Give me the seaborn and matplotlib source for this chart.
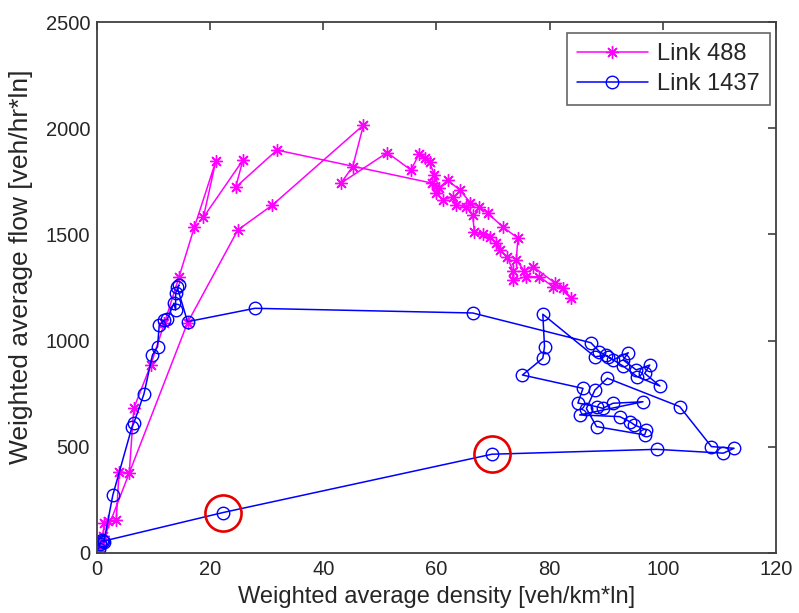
import matplotlib
matplotlib.use("Agg")
import matplotlib.pyplot as plt
import seaborn as sns
import numpy as np

# Link 488: weighted average density [veh/km*ln] and flow [veh/hr*ln], in time order
link488_density = [0.2, 0.5, 1.0, 1.3, 2.0, 3.4, 3.9, 5.7, 6.5, 9.5, 11.9, 14.5, 17.2, 21.0, 18.8,
                   25.8, 24.5, 31.8, 59.3, 59.9, 61.1, 62.9, 63.5, 65.2, 66.4, 66.7, 68.2, 69.4,
                   70.5, 71.2, 72.5, 73.5, 73.5, 75.9, 78.2, 80.6, 82.3, 83.8, 81.0, 77.1, 75.5,
                   74.1, 74.4, 71.7, 69.1, 67.6, 66.0, 64.1, 62.0, 60.5, 59.6, 58.8, 57.9, 56.9,
                   55.5, 51.3, 43.1, 45.2, 47.1, 31.0, 24.9, 16.0, 0.8]
link488_flow = [10, 40, 80, 141, 150, 155, 383, 375, 681, 885, 1081, 1300, 1533, 1845, 1580,
                1850, 1722, 1897, 1741, 1694, 1662, 1678, 1640, 1630, 1591, 1513, 1500, 1489,
                1458, 1427, 1395, 1330, 1285, 1301, 1301, 1254, 1246, 1199, 1270, 1348, 1330,
                1379, 1482, 1536, 1599, 1630, 1650, 1709, 1756, 1720, 1780, 1843, 1858, 1877,
                1803, 1885, 1741, 1819, 2015, 1638, 1521, 1084, 40]

# Link 1437: weighted average density [veh/km*ln] and flow [veh/hr*ln], in time order
link1437_density = [0.3, 0.5, 0.8, 1.2, 2.8, 6.2, 6.5, 8.3, 9.8, 10.7, 11.0, 11.9, 12.4, 13.6,
                    13.9, 13.9, 14.5, 14.2, 16.0, 27.9, 66.4, 87.3, 88.8, 90.3, 91.2, 93.9, 93.0,
                    95.3, 97.7, 96.8, 99.5, 95.5, 93.0, 90.0, 88.0, 78.8, 79.1, 78.8, 75.2, 85.9,
                    85.0, 88.3, 89.4, 91.2, 96.5, 85.3, 92.4, 94.2, 95.0, 97.1, 96.8, 88.3, 86.5,
                    88.0, 90.2, 103.0, 108.6, 112.6, 110.7, 98.9, 69.8, 22.2, 1.0]
link1437_flow = [20, 40, 60, 50, 273, 595, 611, 749, 932, 971, 1073, 1097, 1100, 1176, 1144,
                 1223, 1262, 1250, 1089, 1152, 1130, 990, 948, 924, 909, 943, 909, 862, 885, 846,
                 786, 830, 880, 930, 924, 1124, 972, 917, 838, 775, 706, 689, 681, 705, 712, 650,
                 642, 618, 603, 579, 556, 595, 680, 767, 823, 689, 501, 493, 470, 488, 465, 190, 55]

# Points circled in red
highlight_density = [22.2, 69.8]
highlight_flow = [190, 465]

x_ticks = [0, 20, 40, 60, 80, 100, 120]
y_ticks = [0, 500, 1000, 1500, 2000, 2500]

sns.set_style("white")
plt.rcParams["font.family"] = ["Liberation Sans", "DejaVu Sans"]
text_color = "#262626"
edge_color = "#404040"

fig = plt.figure(figsize=(7.99, 6.13), dpi=100)
ax = fig.add_axes([0.1214, 0.0979, 0.8497, 0.8662])

sns.lineplot(x=link488_density, y=link488_flow, sort=False, estimator=None, ax=ax,
             color="#ff00ff", linewidth=1.1, marker=(8, 2, 0), markersize=9,
             markeredgewidth=1.0, markeredgecolor="#ff00ff", label="Link 488")
sns.lineplot(x=link1437_density, y=link1437_flow, sort=False, estimator=None, ax=ax,
             color="#0000ff", linewidth=1.1, marker="o", markersize=9,
             markerfacecolor="none", markeredgewidth=1.0, markeredgecolor="#0000ff",
             label="Link 1437")
ax.plot(highlight_density, highlight_flow, linestyle="none", marker="o", markersize=26,
        markerfacecolor="none", markeredgecolor="#e60000", markeredgewidth=1.9)

ax.set_xlim(0, 120)
ax.set_ylim(0, 2500)
ax.set_xticks(x_ticks)
ax.set_yticks(y_ticks)
ax.tick_params(direction="in", length=6, width=1.2, colors=edge_color, labelcolor=text_color,
               labelsize=14.5, top=True, right=True, pad=5)
for s in ax.spines.values():
    s.set_visible(True)
    s.set_color(edge_color)
    s.set_linewidth(1.3)

ax.set_xlabel("Weighted average density [veh/km*ln]", fontsize=17, color=text_color, labelpad=5)
ax.set_ylabel("Weighted average flow [veh/hr*ln]", fontsize=19, color=text_color)
ax.yaxis.set_label_coords(-0.095, 0.54)

leg = ax.legend(loc="upper right", bbox_to_anchor=(0.991, 0.979), borderaxespad=0,
                fontsize=17, frameon=True, fancybox=False, edgecolor=edge_color,
                handlelength=3.0, labelspacing=0.35, borderpad=0.42, handletextpad=0.4)
leg.get_frame().set_linewidth(1.2)
for t in leg.get_texts():
    t.set_color(text_color)

fig.savefig("out.png", dpi=100, facecolor="white")
